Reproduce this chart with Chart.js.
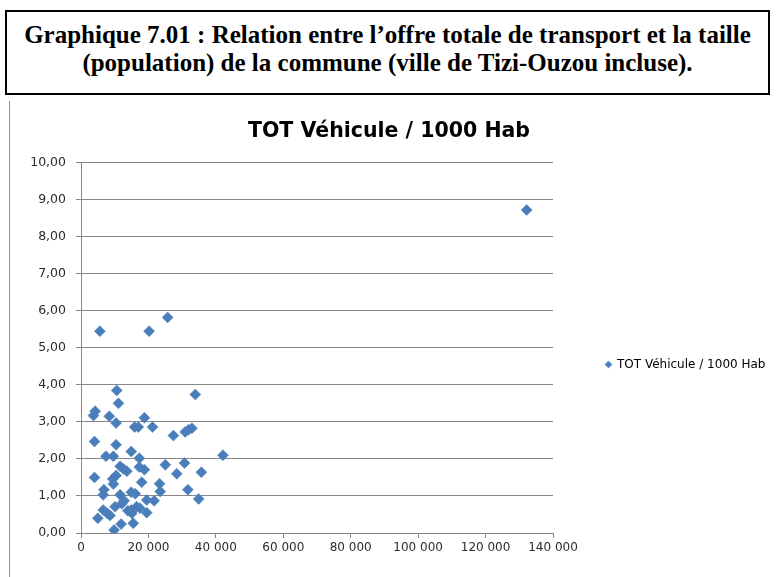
<!DOCTYPE html>
<html lang="fr">
<head>
<meta charset="utf-8">
<title>Graphique 7.01</title>
<script src="https://cdn.jsdelivr.net/npm/chart.js@4.4.1/dist/chart.umd.min.js"></script>
<style>
    body {
        margin: 0;
        width: 776px;
        height: 577px;
        background: #fff;
        overflow: hidden;
        position: relative;
    }
    .caption {
        position: absolute;
        left: 5px;
        top: 10px;
        width: 761px;
        height: 72px;
        border: 2px solid #000;
        font-family: "Liberation Serif", "Times New Roman", serif;
        font-weight: bold;
        font-size: 25px;
        line-height: 28px;
        text-align: center;
        padding-top: 9px;
        box-sizing: content-box;
        color: #000;
    }
    .chart-frame {
        position: absolute;
        left: 9px;
        top: 101px;
        width: 767px;
        height: 476px;
        border-left: 1px solid #8c8c8c;
    }
    #scatter {
        position: absolute;
        left: 0;
        top: -1px;
    }
</style>
</head>
<body>
<div class="caption">
    Graphique 7.01 : Relation entre l’offre totale de transport et la taille<br>
    (population) de la commune (ville de Tizi-Ouzou incluse).
</div>
<div class="chart-frame">
    <canvas id="scatter" width="766" height="477"></canvas>
</div>
<script>
// Population of each commune (inhabitants)
const population = [
    5600, 20200, 25700, 132200, 10600, 33900, 11100, 4200, 3700, 8400,
    18800, 10400, 15900, 17000, 21200, 27400, 30900, 31900, 32900, 4000,
    10400, 14900, 7400, 9600, 17300, 42100, 25000, 30700, 4000, 11600,
    12600, 13600, 17300, 18800, 28400, 35700, 10400, 9400, 9600, 18000,
    23300, 23500, 31700, 6800, 6600, 11600, 14900, 16100, 34900, 19500,
    21700, 12800, 12100, 10100, 6600, 7800, 8600, 13900, 15100, 16500,
    17500, 19500, 5000, 11900, 15500, 9800, 14900
];

// Total vehicles per 1000 inhabitants, same order as population
const vehiclesPer1000 = [
    5.45, 5.45, 5.82, 8.72, 3.85, 3.74, 3.50, 3.29, 3.17, 3.15,
    3.11, 2.97, 2.86, 2.86, 2.86, 2.63, 2.73, 2.79, 2.83, 2.47,
    2.38, 2.20, 2.07, 2.07, 2.02, 2.10, 1.84, 1.89, 1.50, 1.80,
    1.73, 1.67, 1.78, 1.71, 1.60, 1.64, 1.55, 1.46, 1.32, 1.37,
    1.33, 1.12, 1.17, 1.17, 1.03, 1.03, 1.10, 1.06, 0.92, 0.89,
    0.87, 0.87, 0.79, 0.71, 0.62, 0.53, 0.47, 0.60, 0.53, 0.71,
    0.67, 0.55, 0.40, 0.24, 0.26, 0.08, 0.62
];

const seriesName = 'TOT Véhicule / 1000 Hab';

// Axis labels, one per tick
const xTickLabels = ['0', '20 000', '40 000', '60 000', '80 000', '100 000', '120 000', '140 000'];
const yTickLabels = ['0,00', '1,00', '2,00', '3,00', '4,00', '5,00', '6,00', '7,00', '8,00', '9,00', '10,00'];

const gridColor = '#878787';
const labelColor = '#2b2b2b';
const markerColor = '#4a7ebb';

// Pair up the two series into scatter points
const points = population.map((pop, i) => ({ x: pop, y: vehiclesPer1000[i] }));

const ctx = document.getElementById('scatter').getContext('2d');

new Chart(ctx, {
    type: 'scatter',
    data: {
        datasets: [{
            label: seriesName,
            data: points,
            pointStyle: 'rectRot',
            pointRadius: 5.5,
            pointHoverRadius: 5.5,
            backgroundColor: markerColor,
            borderColor: markerColor,
            borderWidth: 0.5
        }]
    },
    options: {
        responsive: false,
        animation: false,
        devicePixelRatio: 1,
        layout: {
            padding: { top: 0, right: 8, bottom: 0, left: 0 }
        },
        plugins: {
            title: {
                display: true,
                text: seriesName,
                color: '#000',
                font: { family: 'DejaVu Sans', size: 20.5, weight: 'bold' },
                padding: { top: 19, bottom: 19 }
            },
            legend: {
                position: 'right',
                maxWidth: 215,
                // empty title only pushes the single entry a little lower
                title: { display: true, text: '', padding: 20, font: { size: 10 } },
                labels: {
                    usePointStyle: true,
                    boxWidth: 5,
                    boxHeight: 5,
                    padding: 53,
                    color: '#000',
                    font: { family: 'DejaVu Sans', size: 12 }
                }
            },
            tooltip: { enabled: false }
        },
        scales: {
            x: {
                type: 'linear',
                min: 0,
                max: 140000,
                afterFit: (scale) => { scale.height = 44; },
                border: { color: gridColor, width: 1 },
                grid: { drawOnChartArea: false, color: gridColor, tickLength: 5 },
                ticks: {
                    stepSize: 20000,
                    maxRotation: 0,
                    padding: 3,
                    color: labelColor,
                    font: { family: 'DejaVu Sans', size: 12 },
                    callback: (value, index) => xTickLabels[index]
                }
            },
            y: {
                min: 0,
                max: 10,
                afterFit: (scale) => { scale.width = 71; },
                border: { color: gridColor, width: 1 },
                grid: { color: gridColor, tickLength: 5 },
                ticks: {
                    stepSize: 1,
                    padding: 10,
                    color: labelColor,
                    font: { family: 'DejaVu Sans', size: 12.5 },
                    callback: (value, index) => yTickLabels[index]
                }
            }
        }
    }
});
</script>
</body>
</html>
